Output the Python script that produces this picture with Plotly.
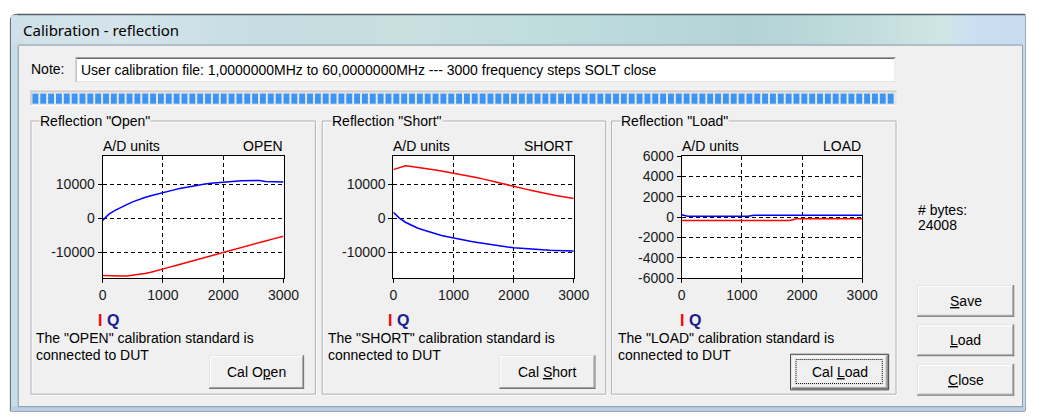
import plotly.graph_objects as go

W, H = 1041, 419

# ---------------- data ----------------
steps = [0, 100, 200, 300, 400, 500, 600, 700, 800, 900, 1000, 1100, 1200, 1300, 1400, 1500,
         1600, 1700, 1800, 1900, 2000, 2100, 2200, 2300, 2400, 2500, 2600, 2700, 2800, 2900, 3000]

open_I = [-16900, -17000, -17000, -17000, -17000, -16800, -16600, -16300, -15900, -15500, -15000,
          -14500, -14000, -13500, -13000, -12500, -12000, -11500, -11000, -10500, -10000,
          -9500, -9050, -8600, -8100, -7650, -7150, -6700, -6250, -5800, -5300]
open_Q = [-700, 1100, 2200, 3200, 4000, 4800, 5500, 6100, 6600, 7100, 7500, 7950, 8400, 8800,
          9150, 9450, 9750, 10050, 10300, 10500, 10700, 10800, 10900, 11000, 11050, 11100,
          11100, 10800, 10750, 10700, 10650]

short_I = [14300, 14900, 15400, 15200, 15000, 14800, 14500, 14200, 13900, 13600, 13300, 12950,
           12600, 12250, 11900, 11500, 11050, 10650, 10250, 9800, 9400, 9000, 8550, 8150, 7750,
           7350, 7000, 6700, 6400, 6100, 5800]
short_Q = [1700, 0, -1200, -2100, -2900, -3500, -4100, -4600, -5100, -5500, -5900, -6250, -6600,
           -6900, -7200, -7500, -7800, -8050, -8300, -8500, -8700, -8850, -9000, -9150, -9300,
           -9400, -9450, -9500, -9550, -9600, -9700]

load_I = [-320, -320, -320, -320, -320, -320, -320, -320, -320, -320, -320, -320, -320, -320,
          -320, -320, -320, -320, -320, -160, -160, -160, -160, -160, -160, -160, -160, -160,
          -160, -160, -160]
load_Q = [250, 100, 100, 100, 100, 100, 100, 100, 100, 100, 100, 100, 190, 190, 190, 190, 190,
          190, 190, 190, 190, 190, 190, 190, 190, 190, 190, 190, 190, 190, 190]

x_ticks = [0, 1000, 2000, 3000]
x_labels = ['0', '1000', '2000', '3000']
y_ticks_big = [-10000, 0, 10000]
y_labels_big = ['-10000', '0', '10000']
y_ticks_load = [-6000, -4000, -2000, 0, 2000, 4000, 6000]
y_labels_load = ['-6000', '-4000', '-2000', '0', '2000', '4000', '6000']

panel_titles = ['Reflection "Open"', 'Reflection "Short"', 'Reflection "Load"']
panel_tags = ['OPEN', 'SHORT', 'LOAD']
panel_msgs = ['The "OPEN" calibration standard is', 'The "SHORT" calibration standard is',
              'The "LOAD" calibration standard is']
panel_buttons = ['Cal O<u>p</u>en', 'Cal <u>S</u>hort', 'Cal <u>L</u>oad']
note_text = 'User calibration file: 1,0000000MHz to 60,0000000MHz --- 3000 frequency steps SOLT close'
bytes_value = '24008'

# ---------------- helpers ----------------
FONT = 'Liberation Sans'
TFONT = 'Noto Sans'
shapes, annotations = [], []


def X(p):
    return p / W


def Y(p):
    return 1 - p / H


def rect(x0, y0, x1, y1, fill='rgba(0,0,0,0)', line=None, lw=1, dash=None):
    ln = dict(color=line if line else 'rgba(0,0,0,0)', width=lw if line else 0)
    if dash:
        ln['dash'] = dash
    shapes.append(dict(type='rect', xref='paper', yref='paper', x0=X(x0), x1=X(x1),
                       y0=Y(y1), y1=Y(y0), fillcolor=fill, line=ln, layer='below'))


def line(x0, y0, x1, y1, color, lw=1):
    shapes.append(dict(type='line', xref='paper', yref='paper', x0=X(x0), x1=X(x1),
                       y0=Y(y0), y1=Y(y1), line=dict(color=color, width=lw), layer='below'))


def text(x, y, s, size=14, color='#000000', xanchor='left', family=FONT, bg=None):
    a = dict(x=X(x), y=Y(y), xref='paper', yref='paper', text=s, showarrow=False,
             xanchor=xanchor, yanchor='middle', font=dict(family=family, size=size, color=color),
             borderpad=0)
    if bg:
        a['bgcolor'] = bg
    annotations.append(a)


def hexmix(c1, c2, t):
    a = [int(c1[i:i + 2], 16) for i in (1, 3, 5)]
    b = [int(c2[i:i + 2], 16) for i in (1, 3, 5)]
    return '#' + ''.join('%02x' % round(a[k] + (b[k] - a[k]) * t) for k in range(3))


def button(x0, y0, x1, y1, label, default=False):
    if default:
        rect(x0 - 1, y0 - 1, x1 + 1, y1 + 1, fill='#f0f0f0', line='#3c3c3c', lw=1)
    rect(x0, y0, x1, y1, fill='#f0f0f0')
    line(x0 + 0.5, y0 + 0.5, x1 - 0.5, y0 + 0.5, '#e3e3e3')
    line(x0 + 0.5, y0 + 0.5, x0 + 0.5, y1 - 0.5, '#e3e3e3')
    line(x0 + 1.5, y0 + 1.5, x1 - 1.5, y0 + 1.5, '#ffffff')
    line(x0 + 1.5, y0 + 1.5, x0 + 1.5, y1 - 1.5, '#ffffff')
    line(x0, y1 - 0.5, x1, y1 - 0.5, '#696969')
    line(x1 - 0.5, y0, x1 - 0.5, y1, '#696969')
    line(x0 + 1, y1 - 1.5, x1 - 1, y1 - 1.5, '#a0a0a0')
    line(x1 - 1.5, y0 + 1, x1 - 1.5, y1 - 1, '#a0a0a0')
    if default:
        rect(x0 + 4.5, y0 + 4.5, x1 - 5.5, y1 - 5.5, line='#000000', lw=1, dash='1px,1px')
    text((x0 + x1) / 2, (y0 + y1) / 2, label, size=14, xanchor='center')


# ---------------- window chrome ----------------
r = 7
shapes.append(dict(type='path', xref='paper', yref='paper', layer='below',
                   path=f'M {X(6.5)} {Y(419)} L {X(6.5)} {Y(6.5 + r)} Q {X(6.5)} {Y(6.5)} {X(6.5 + r)} {Y(6.5)} L {X(1041)} {Y(6.5)} L {X(1041)} {Y(419)} Z',
                   fillcolor='#c4dce0', line=dict(color='#4a5560', width=1)))
stops = [(7, '#cfe0e8'), (120, '#d4e4ea'), (260, '#c6dde1'), (420, '#c8dfe0'), (600, '#bddbdc'),
         (760, '#b3d3d5'), (880, '#c2dcdc'), (960, '#d0e6e6'), (985, '#cadff2'), (1041, '#c8dcf0')]
for i in range(len(stops) - 1):
    xa, ca = stops[i]
    xb, cb = stops[i + 1]
    n = max(1, int((xb - xa) / 6))
    for k in range(n):
        xs = xa + (xb - xa) * k / n
        xe = xa + (xb - xa) * (k + 1) / n
        rect(xs, 7.5 if xs < 15 else 7, min(xe + 0.6, 1041), 39, fill=hexmix(ca, cb, (k + 0.5) / n))
line(14, 7, 1041, 7, '#4a5560')
rect(7, 39, 15, 419, fill='#c6dde3')
rect(1038, 39, 1041, 419, fill='#c8dcf0')
rect(7, 414, 1041, 419, fill='#b7cfe6')
rect(15, 39, 1038, 414, fill='#f0f0f0')
line(14.5, 39, 14.5, 414, '#8c9aa4')
line(14.5, 38.5, 1038, 38.5, '#8c9aa4')
line(1038.5, 38.5, 1038.5, 414.5, '#8c9aa4')
line(14.5, 414.5, 1038.5, 414.5, '#8c9aa4')
text(18, 23, 'Calibration - reflection', size=15, family=TFONT)

# note box
text(27, 63, 'Note:')
rect(73, 51, 909, 77, fill='#ffffff')
line(73, 51.5, 909, 51.5, '#a0a0a0')
line(73.5, 51, 73.5, 77, '#a0a0a0')
line(74, 52.5, 908, 52.5, '#696969')
line(74, 76.5, 909, 76.5, '#e3e3e3')
line(908.5, 52, 908.5, 77, '#e3e3e3')
text(77, 64, note_text)

# progress bar
rect(27, 86, 910, 102, fill='#e6e6e6')
line(27, 86.5, 910, 86.5, '#bcbcbc')
line(27.5, 86, 27.5, 102, '#bcbcbc')
line(27, 101.5, 910, 101.5, '#ffffff')
xs = 29
while xs + 6 <= 908:
    rect(xs, 89, xs + 6, 99.5, fill='#3c94f2')
    xs += 8

# group boxes
groups = [(27, 318), (324, 614), (619, 910)]
plot_px = [(100.5, 285), (397, 581), (691, 875)]
msg_x = [32, 329, 625]
iq_x = [95, 391, 688]
btn_x = [(209, 306), (505, 603), (803, 901)]
for i, (g0, g1) in enumerate(groups):
    rect(g0 + 1.5, 118.5, g1 + 0.5, 402.5, line='#ffffff', lw=1)
    rect(g0 + 0.5, 117.5, g1 - 0.5, 401.5, line='#b0b0b0', lw=1)
    text(g0 + 9, 118, panel_titles[i], bg='#f0f0f0')
    p0, p1 = plot_px[i]
    rect(p0, 154, p1, 281, fill='#ffffff')
    text(p0 - 1, 143, 'A/D units')
    text(p1, 143, panel_tags[i], xanchor='right')
    text(iq_x[i], 325, '<b><span style="color:#ff0000">I</span> <span style="color:#1c1c90">Q</span></b>', size=16)
    text(msg_x[i], 343, panel_msgs[i])
    text(msg_x[i], 361, 'connected to DUT')
    button(btn_x[i][0], 361, btn_x[i][1], 396, panel_buttons[i], default=(i == 2))

# right column
text(931, 210, '# bytes:')
text(931, 226, bytes_value)
button(931, 288, 1030, 321, '<u>S</u>ave')
button(931, 329, 1030, 362, '<u>L</u>oad')
button(931, 370, 1030, 403, '<u>C</u>lose')

# ---------------- plots ----------------
fig = go.Figure()
series = [(open_I, open_Q), (short_I, short_Q), (load_I, load_Q)]
for i, (sI, sQ) in enumerate(series):
    ax = '' if i == 0 else str(i + 1)
    fig.add_trace(go.Scatter(x=steps, y=sI, mode='lines', line=dict(color='#ff0000', width=1.5),
                             xaxis='x' + ax, yaxis='y' + ax, showlegend=False))
    fig.add_trace(go.Scatter(x=steps, y=sQ, mode='lines', line=dict(color='#0000ff', width=1.5),
                             xaxis='x' + ax, yaxis='y' + ax, showlegend=False))

axis_common = dict(showline=True, mirror=True, linecolor='#000000', linewidth=1, ticks='outside',
                   ticklen=4, tickcolor='#000000', tickwidth=1, showgrid=True, gridcolor='#000000',
                   gridwidth=1, griddash='4px,3px', zeroline=False,
                   tickfont=dict(family=FONT, size=14, color='#1a1a1a'), fixedrange=True)
layout_axes = {}
for i in range(3):
    p0, p1 = plot_px[i]
    ax = '' if i == 0 else str(i + 1)
    layout_axes['xaxis' + ax] = dict(axis_common, domain=[X(p0), X(p1)], range=[0, 3000],
                                     tickvals=x_ticks, ticktext=x_labels, anchor='y' + ax)
    if i < 2:
        yr, yt, yl = [-17700, 18270], y_ticks_big, y_labels_big
    else:
        yr, yt, yl = [-6000, 6000], y_ticks_load, y_labels_load
    layout_axes['yaxis' + ax] = dict(axis_common, domain=[Y(281), Y(154)], range=yr,
                                     tickvals=yt, ticktext=yl, anchor='x' + ax)

fig.update_layout(width=W, height=H, margin=dict(l=0, r=0, t=0, b=0),
                  paper_bgcolor='#ffffff', plot_bgcolor='rgba(0,0,0,0)',
                  shapes=shapes, annotations=annotations, showlegend=False, **layout_axes)

fig.write_html('out.html', config={'displayModeBar': False},
               post_script="document.body.style.margin='0';document.body.style.overflow='hidden';")
